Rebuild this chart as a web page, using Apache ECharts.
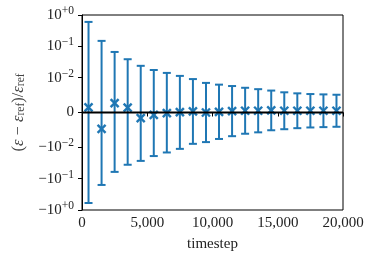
<!DOCTYPE html>
<html><head><meta charset="utf-8">
<script src="https://cdn.jsdelivr.net/npm/echarts@6/dist/echarts.min.js"></script>
<style>html,body{margin:0;padding:0;background:#fff}#c{width:374px;height:263px}</style>
</head><body><div id="c"></div>
<script>
// ---- data ----
const timesteps = [500,1500,2500,3500,4500,5500,6500,7500,8500,9500,10500,11500,12500,13500,14500,15500,16500,17500,18500,19500];
const means = [0.0015,-0.0047,0.0027,0.0014,-0.0016,-0.0007,-0.0002,0.0001,0.0003,0.0000,0.0002,0.0004,0.0005,0.0005,0.0006,0.0005,0.0005,0.0005,0.0005,0.0005];
const errors = [0.6,0.154,0.0635,0.0374,0.0255,0.0183,0.0144,0.0113,0.0093,0.0085,0.0078,0.0072,0.0066,0.0062,0.0057,0.0053,0.005,0.0048,0.0047,0.0046];
const xTicks = [0,5000,10000,15000,20000];
const yTickValues = [-1,-0.1,-0.01,0,0.01,0.1,1];
const yTickLabels = ['−10^+0','−10^−1','−10^−2','0','10^−2','10^−1','10^+0'];

// symlog transform (linthresh 0.01, linscale 1, base 10), like matplotlib
const LT = 0.01, LS = 1/(1-1/10);
function symlog(v){const a=Math.abs(v);const s=v<0?-1:1;return s*(a<=LT?a/LT*LS:LS+Math.log10(a/LT));}

const FONT = 'Liberation Serif';
const BLUE = '#1f77b4';
const tickT = yTickValues.map(symlog);
function yLabel(t){
  let i=0,best=1e9;
  tickT.forEach((v,k)=>{if(Math.abs(v-t)<best){best=Math.abs(v-t);i=k;}});
  const lab=yTickLabels[i];
  if(lab.indexOf('^')<0) return '{b|'+lab+'}';
  const [base,exp]=lab.split('^');
  return '{b|'+base+'}{s|'+exp+'}';
}
const data = timesteps.map((x,i)=>[x,symlog(means[i]),means[i],errors[i]]);

const chart = echarts.init(document.getElementById('c'),null,{renderer:'canvas'});
chart.setOption({
  animation:false,
  backgroundColor:'#fff',
  grid:{left:82,right:31,top:15,bottom:53,show:true,borderColor:'#000',borderWidth:1,backgroundColor:'transparent'},
  xAxis:{type:'value',min:0,max:20000,interval:5000,
    name:'timestep',nameLocation:'middle',nameGap:27,
    nameTextStyle:{fontFamily:FONT,fontSize:15,color:'#222'},
    axisLine:{show:true,lineStyle:{color:'#000',width:1}},
    axisTick:{show:true,length:4,lineStyle:{color:'#000'}},
    splitLine:{show:false},
    axisLabel:{fontFamily:FONT,fontSize:15,color:'#222',margin:6,
      formatter:v=>v.toLocaleString('en-US')}},
  yAxis:{type:'value',min:-symlog(1),max:symlog(1),
    name:'{n|(}{i|ε}{n| − }{i|ε}{sub|ref}{n|)/}{i|ε}{sub|ref}',
    nameLocation:'middle',nameGap:53,nameRotate:90,
    nameTextStyle:{color:'#444',rich:{
      n:{fontFamily:FONT,fontSize:16.5,color:'#444'},
      i:{fontFamily:FONT,fontSize:16.5,fontStyle:'italic',color:'#444'},
      sub:{fontFamily:FONT,fontSize:11.5,color:'#444',verticalAlign:'bottom',padding:[6,0,0,0]}}},
    axisLine:{show:true,lineStyle:{color:'#000',width:1}},
    axisTick:{show:true,length:4,lineStyle:{color:'#000'},customValues:tickT},
    splitLine:{show:false},
    axisLabel:{customValues:tickT,margin:8,formatter:yLabel,
      rich:{b:{fontFamily:FONT,fontSize:15,color:'#222'},
            s:{fontFamily:FONT,fontSize:11.5,color:'#222',verticalAlign:'top',padding:[0,0,8,0]}}}},
  series:[
    {type:'custom',z:2,data:data,encode:{x:0,y:1},
     renderItem:function(params,api){
       const x=api.value(0),m=api.value(2),e=api.value(3);
       const pT=api.coord([x,symlog(m+e)]),pB=api.coord([x,symlog(m-e)]),pM=api.coord([x,symlog(m)]);
       const cw=4,mk=4;
       const st={stroke:BLUE,lineWidth:2,fill:null};
       return {type:'group',children:[
         {type:'line',shape:{x1:pT[0],y1:pT[1],x2:pB[0],y2:pB[1]},style:st},
         {type:'line',shape:{x1:pT[0]-cw,y1:pT[1],x2:pT[0]+cw,y2:pT[1]},style:st},
         {type:'line',shape:{x1:pB[0]-cw,y1:pB[1],x2:pB[0]+cw,y2:pB[1]},style:st},
         {type:'line',shape:{x1:pM[0]-mk,y1:pM[1]-mk,x2:pM[0]+mk,y2:pM[1]+mk},style:{stroke:BLUE,lineWidth:2.4}},
         {type:'line',shape:{x1:pM[0]-mk,y1:pM[1]+mk,x2:pM[0]+mk,y2:pM[1]-mk},style:{stroke:BLUE,lineWidth:2.4}}
       ]};
     }},
    {type:'line',z:3,data:[[0,0],[20000,0]],symbol:'none',silent:true,
     lineStyle:{color:'#000',width:2}}
  ]
});
</script></body></html>
